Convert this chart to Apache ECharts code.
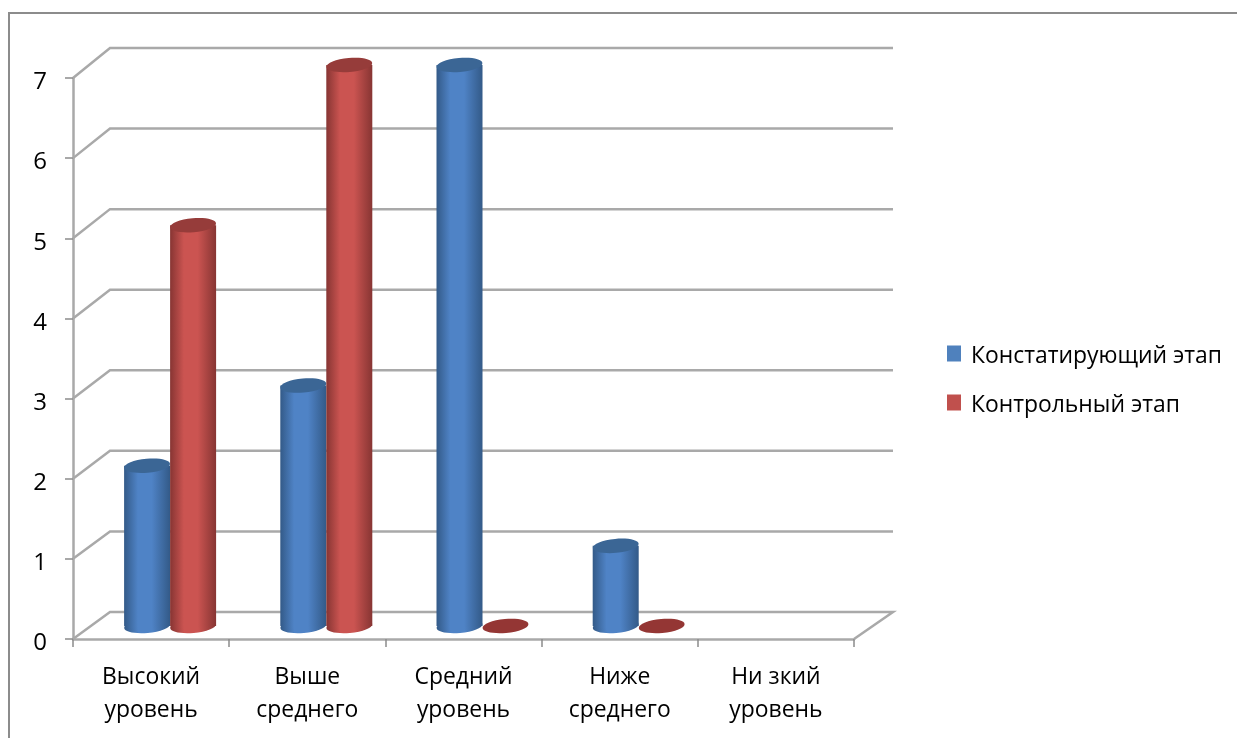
<!DOCTYPE html>
<html>
<head>
<meta charset="utf-8">
<style>html,body{margin:0;padding:0;background:#fff}#c{width:1237px;height:738px;filter:blur(0.5px)}</style>
<script src="https://cdn.jsdelivr.net/npm/echarts@6/dist/echarts.min.js"></script>
</head>
<body>
<div id="c"></div>
<script>
const categories = ['Высокий\nуровень', 'Выше\nсреднего', 'Средний\nуровень', 'Ниже\nсреднего', 'Ни зкий\nуровень'];
const yTicks = [0, 1, 2, 3, 4, 5, 6, 7];
const seriesNames = ['Констатирующий этап', 'Контрольный этап'];
const stageOne = [2, 3, 7, 1, null];
const stageTwo = [5, 7, 0, 0, null];

const FONT = '"Open Sans", sans-serif';
const WALL = '#a9a9a9';
const DEPTH_X = 38;
const DEPTH_Y = 27;
const CYL_W = 46;
const CYL_RY = 7;
const TILT = 0.09;

const palette = [
  {legend: '#4f81bd', edge: '#335a88', mid: '#4f83c6', cap: '#3b6695', flat: '#3b6695'},
  {legend: '#c0504d', edge: '#873533', mid: '#cb5451', cap: '#963c3a', flat: '#943634'}
];

function wallItem(params, api) {
  const v = api.value(1);
  const c = api.coord([0, v]);
  const band = api.size([1, 0])[0];
  const left = c[0] - band / 2;
  const backY = c[1] - DEPTH_Y - v * 0.43;
  const backLeft = left + DEPTH_X - 1;
  const backRight = left + band * 5 + DEPTH_X + 1;
  const pts = [[left, c[1]], [backLeft, backY], [backRight, backY]];
  if (v === 0) pts.push([left + band * 5, c[1]]);
  return {
    type: 'polyline',
    shape: {points: pts},
    style: {fill: null, stroke: WALL, lineWidth: 2.5},
    silent: true
  };
}

function cylinderItem(seriesIdx) {
  return function (params, api) {
    const v = api.value(1);
    if (isNaN(v)) return null;
    const c = api.coord([api.value(0), v]);
    const base = api.coord([api.value(0), 0]);
    const cx = c[0] + DEPTH_X / 2 + (seriesIdx === 0 ? -CYL_W / 2 : CYL_W / 2);
    const topY = c[1] - 13;
    const botY = base[1] - 13;
    const p = palette[seriesIdx];
    const rx = CYL_W / 2;
    const ell = (y, fill) => ({
      type: 'ellipse',
      x: cx, y: y, rotation: TILT,
      shape: {cx: 0, cy: 0, rx: rx, ry: CYL_RY},
      style: {fill: fill}
    });
    if (v === 0) {
      return {type: 'group', silent: true, children: [ell(botY, p.flat)]};
    }
    const grad = () => new echarts.graphic.LinearGradient(0, 0, 1, 0, [
      {offset: 0, color: p.edge},
      {offset: 0.3, color: p.mid},
      {offset: 0.6, color: p.mid},
      {offset: 1, color: p.edge}
    ]);
    return {
      type: 'group', silent: true,
      children: [
        ell(botY, grad()),
        {type: 'rect', shape: {x: cx - rx, y: topY, width: CYL_W, height: botY - topY}, style: {fill: grad()}},
        ell(topY, p.cap)
      ]
    };
  };
}

const chart = echarts.init(document.getElementById('c'), null, {renderer: 'canvas'});
chart.setOption({
  animation: false,
  backgroundColor: '#fff',
  textStyle: {fontFamily: FONT},
  grid: {left: 73, right: 383, top: 78, bottom: 99, containLabel: false},
  graphic: [{
    type: 'polyline',
    shape: {points: [[9, 738], [9, 13], [1237, 13]]},
    style: {fill: null, stroke: '#8c8c8c', lineWidth: 2},
    silent: true
  }],
  legend: {
    left: 947, top: 345, padding: 0, orient: 'vertical', icon: 'rect',
    itemWidth: 14, itemHeight: 16, itemGap: 26, selectedMode: false, symbolKeepAspect: false,
    data: seriesNames,
    formatter: name => '{t|' + name + '}',
    textStyle: {
      rich: {t: {fontFamily: FONT, fontSize: 22.9, color: '#000', padding: [6, 0, 0, 5]}}
    }
  },
  xAxis: {
    type: 'category', data: categories,
    axisLine: {lineStyle: {color: WALL, width: 2.5}},
    axisTick: {show: true, alignWithLabel: false, length: 8, lineStyle: {color: '#8c8c8c', width: 1.5}},
    axisLabel: {fontFamily: FONT, fontSize: 22.9, color: '#000', margin: 22, lineHeight: 33, interval: 0},
    splitLine: {show: false}
  },
  yAxis: {
    type: 'value', min: 0, max: 7, interval: 1,
    axisLine: {show: true, lineStyle: {color: WALL, width: 2.5}},
    axisTick: {show: true, length: 8, lineStyle: {color: '#8c8c8c', width: 1.5}},
    axisLabel: {
      margin: 26,
      formatter: v => '{d|' + v + '}',
      rich: {d: {fontFamily: FONT, fontSize: 24, color: '#000', padding: [9, 0, 0, 0]}}
    },
    splitLine: {show: false}
  },
  series: [
    {type: 'custom', name: 'walls', renderItem: wallItem, data: yTicks.map(v => [0, v]), encode: {x: 0, y: 1}, z: 1, silent: true},
    {type: 'custom', name: seriesNames[0], renderItem: cylinderItem(0), itemStyle: {color: palette[0].legend}, data: stageOne.map((v, i) => [i, v]), encode: {x: 0, y: 1}, z: 3},
    {type: 'custom', name: seriesNames[1], renderItem: cylinderItem(1), itemStyle: {color: palette[1].legend}, data: stageTwo.map((v, i) => [i, v]), encode: {x: 0, y: 1}, z: 4}
  ]
});
</script>
</body>
</html>
